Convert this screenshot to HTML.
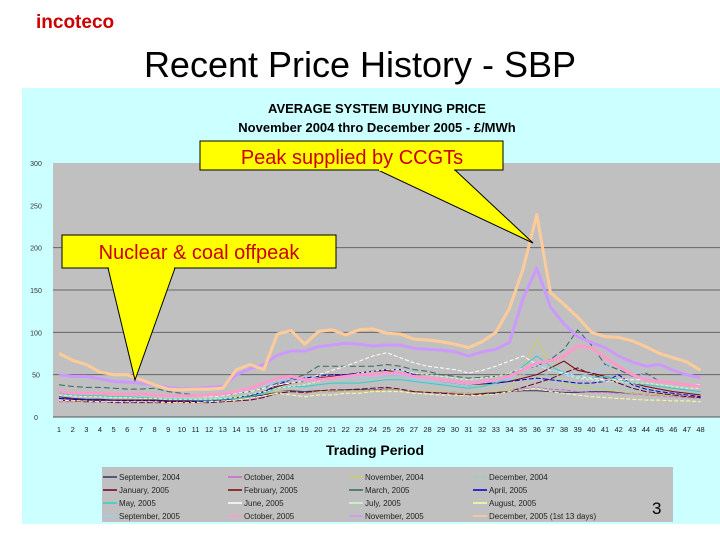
<!DOCTYPE html>
<html><head><meta charset="utf-8"><style>
body{margin:0;width:720px;height:540px;background:#fff;overflow:hidden;font-family:"Liberation Sans",sans-serif}
</style></head><body>
<svg id="c" width="720" height="540" viewBox="0 0 720 540" font-family="Liberation Sans, sans-serif">
<text x="36" y="28" font-size="19" fill="#cc0000" font-weight="bold">incoteco</text>
<text x="360" y="77" font-size="36" text-anchor="middle" fill="#000">Recent Price History - SBP</text>
<rect x="22" y="88" width="698" height="436" fill="#ccffff"/>
<text x="377" y="113" font-size="13" font-weight="bold" text-anchor="middle">AVERAGE SYSTEM BUYING PRICE</text>
<text x="377" y="132" font-size="13" font-weight="bold" text-anchor="middle">November 2004 thro December 2005 - £/MWh</text>
<rect x="53" y="163" width="667" height="254" fill="#c0c0c0"/>
<g id="grid"></g><g id="yt"></g><g id="xt"></g><g id="lines"></g>
<text x="375" y="455" font-size="14" font-weight="bold" text-anchor="middle">Trading Period</text>
<g id="legend"></g>
<g>
<polygon points="378,170 455,170 533,243" fill="#ffff00" stroke="#000" stroke-width="1"/>
<rect x="200" y="141" width="303" height="29" fill="#ffff00" stroke="#000" stroke-width="1"/>
<line x1="379" y1="170" x2="454" y2="170" stroke="#ffff00" stroke-width="2"/>
<text x="352" y="164" font-size="20" fill="#cc0000" text-anchor="middle">Peak supplied by CCGTs</text>
</g>
<g>
<polygon points="108,268 175,268 135,380" fill="#ffff00" stroke="#000" stroke-width="1"/>
<rect x="62" y="235" width="274" height="33" fill="#ffff00" stroke="#000" stroke-width="1"/>
<line x1="109" y1="268" x2="174" y2="268" stroke="#ffff00" stroke-width="2"/>
<text x="199" y="259" font-size="20" fill="#cc0000" text-anchor="middle">Nuclear &amp; coal offpeak</text>
</g>
<text x="652" y="514" font-size="17" fill="#000">3</text>
</svg>
<script>
const periods=[1,2,3,4,5,6,7,8,9,10,11,12,13,14,15,16,17,18,19,20,21,22,23,24,25,26,27,28,29,30,31,32,33,34,35,36,37,38,39,40,41,42,43,44,45,46,47,48];
const yTicks=[0,50,100,150,200,250,300];
const seriesNames=["September, 2004","October, 2004","November, 2004","December, 2004","January, 2005","February, 2005","March, 2005","April, 2005","May, 2005","June, 2005","July, 2005","August, 2005","September, 2005","October, 2005","November, 2005","December, 2005 (1st 13 days)"];
const seriesColors=["#333366","#cc66cc","#cccc66","#99cccc","#660033","#800000","#336666","#0000cc","#33cccc","#ffffff","#ccffcc","#ffff99","#99ccff","#ff99cc","#cc99ff","#ffcc99"];
const sep04=[24,22,21,21,20,20,20,20,19,19,19,20,20,22,24,26,30,31,30,31,31,32,32,32,33,32,30,30,29,29,28,28,29,30,31,31,30,29,29,30,30,29,28,27,26,25,24,23];
const oct04=[18,18,19,19,19,19,19,19,18,18,18,18,19,20,21,24,28,30,28,30,30,31,31,32,33,32,30,29,29,28,27,27,28,30,33,35,33,32,30,29,29,28,27,26,25,24,23,22];
const nov04=[30,28,27,26,25,24,23,22,21,21,21,21,22,24,26,28,30,30,29,30,31,31,31,31,32,32,31,30,30,29,28,29,30,33,55,92,62,40,36,34,32,30,28,27,26,25,24,23];
const dec04=[28,26,25,25,24,24,23,22,22,22,22,22,23,25,27,30,34,36,35,38,40,42,44,46,48,47,44,42,40,38,36,38,40,44,50,55,48,42,38,36,35,34,33,32,31,30,29,28];
const jan05=[20,19,18,18,17,17,17,17,17,17,17,17,18,19,20,23,28,30,29,31,32,32,33,34,35,33,30,29,28,27,26,27,28,30,35,40,45,52,58,50,46,40,34,30,28,26,24,23];
const feb05=[22,21,20,20,20,20,20,20,19,19,19,20,21,23,25,30,36,40,42,46,48,50,52,54,55,52,48,45,42,40,38,39,40,42,46,50,58,66,55,52,48,44,40,36,33,30,28,26];
const mar05=[38,36,35,35,34,33,33,34,30,28,26,25,26,28,30,34,40,45,50,60,60,60,60,60,62,60,56,54,50,48,46,47,48,52,56,60,68,80,103,85,62,56,48,52,42,40,38,36];
const apr05=[22,21,20,20,20,19,19,19,18,18,18,19,20,22,25,30,38,44,46,48,50,50,52,54,56,56,50,46,44,42,40,40,40,42,44,46,44,42,40,40,42,50,38,33,30,28,26,24];
const may05=[28,26,25,25,24,24,23,22,21,21,20,20,21,22,24,28,34,36,36,38,40,40,40,42,44,44,42,40,38,36,34,36,40,46,60,72,60,52,48,46,48,44,40,38,36,34,32,30];
const jun05=[30,28,27,27,26,26,26,25,24,24,24,24,25,28,30,34,38,40,42,50,55,60,66,72,76,70,64,60,58,56,52,55,60,66,72,62,55,52,48,46,44,44,44,44,42,40,38,38];
const jul05=[26,25,24,24,23,23,22,22,21,21,21,21,22,23,26,30,34,36,38,42,46,48,52,54,56,56,52,50,48,46,44,46,48,52,58,62,56,50,46,44,42,42,40,40,38,36,34,34];
const aug05=[20,19,19,18,18,18,18,18,17,17,17,18,19,20,22,25,28,26,24,26,26,28,28,30,30,30,28,27,26,26,25,26,27,30,32,34,30,28,26,24,23,22,21,20,20,19,19,18];
const sep05=[30,29,28,28,27,27,26,26,25,25,25,26,27,30,34,38,42,44,42,44,46,46,48,48,50,50,46,44,42,40,38,40,42,46,54,62,56,50,48,52,60,66,58,46,42,40,38,36];
const oct05=[30,28,28,28,27,27,27,26,25,25,25,26,27,30,34,40,46,48,44,44,46,48,50,50,52,52,48,46,44,42,40,42,44,48,56,64,66,72,84,82,70,60,50,44,42,40,38,36];
const nov05=[50,48,48,45,42,41,40,38,35,33,34,35,36,50,57,62,73,78,78,83,85,87,86,84,85,85,81,80,79,77,72,77,80,88,140,176,130,110,95,88,82,72,65,60,62,55,50,46];
const dec05=[75,67,62,53,50,50,44,38,33,32,33,33,34,56,62,56,98,102,86,101,103,97,103,104,99,98,92,91,89,86,82,89,100,128,175,239,147,133,118,100,95,94,90,83,75,70,65,55];
const allSeries=[sep04,oct04,nov04,dec04,jan05,feb05,mar05,apr05,may05,jun05,jul05,aug05,sep05,oct05,nov05,dec05];
const NS="http://www.w3.org/2000/svg";
const X0=59,DX=13.65,Y0=417,YS=254/300;
function xLab(p){return X0+(p-1)*DX;}
function yv(v){return Y0-v*YS;}
function mk(t,a,parent){const e=document.createElementNS(NS,t);for(const k in a)e.setAttribute(k,a[k]);document.getElementById(parent).appendChild(e);return e;}
yTicks.forEach(v=>{
  if(v>0&&v<250){const g=mk('line',{x1:53,x2:720,y1:yv(v),y2:yv(v),stroke:'#666','stroke-width':1},'grid');
  
  }
  const t=mk('text',{x:36,y:yv(v)+3,'font-size':7,fill:'#333','text-anchor':'middle'},'yt');
  t.textContent=v;
  
  
});
const ax=mk('line',{x1:53,x2:720,y1:Y0,y2:Y0,stroke:'#555'},'xt');


periods.forEach(p=>{
  const t=mk('text',{x:xLab(p),y:432,'font-size':7.5,fill:'#222','text-anchor':'middle'},'xt');
  t.textContent=p;
  
  
});
const thick=[13,14,15];
const dashes=["","4,2","","","6,2","","6,3","5,2","","4,2","3,2","4,2","","","",""];
allSeries.forEach((s,i)=>{
  const pts=s.map((v,j)=>xLab(periods[j]).toFixed(1)+','+yv(v).toFixed(1)).join(' ');
  const w=thick.includes(i)?3:1;
  const l=mk('polyline',{points:pts,fill:'none',stroke:seriesColors[i],'stroke-width':w,'stroke-linejoin':'round','stroke-dasharray':dashes[i]||'none'},'lines');
  
  
});
const lb=mk('rect',{x:102,y:467,width:571,height:55,fill:'#c0c0c0'},'legend');


const colX=[103,228,349,473];
seriesNames.forEach((n,i)=>{
  const c=i%4,r=Math.floor(i/4),x=colX[c],y=477+r*13;
  mk('line',{x1:x,x2:x+14,y1:y,y2:y,stroke:seriesColors[i],'stroke-width':1.5},'legend');
  const t=mk('text',{x:x+16,y:y+3,'font-size':8,fill:'#222'},'legend');
  t.textContent=n;
  
  
});
</script>
</body></html>
